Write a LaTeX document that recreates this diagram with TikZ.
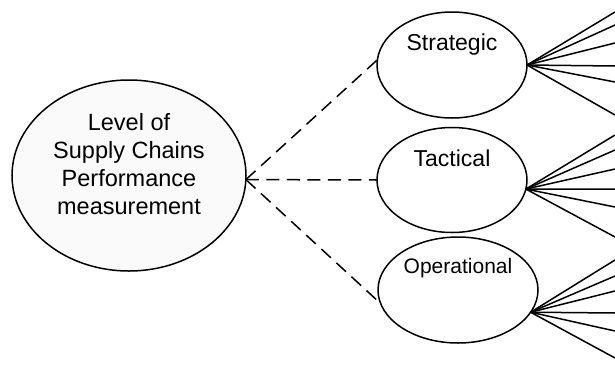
\documentclass[tikz,border=0pt]{standalone}
\usepackage{fontspec}
\setmainfont{Liberation Sans}
\usetikzlibrary{shapes.geometric}
\begin{document}
\begin{tikzpicture}[x=1pt, y=-1pt,
    level/.style={ellipse, draw, line width=1.5pt, inner sep=0pt, outer sep=0pt},
    link/.style={line width=1.5pt, dash pattern=on 13pt off 7.5pt},
    fan/.style={line width=1.5pt}]
    \useasboundingbox (0,0) rectangle (615,367);

    % 总体层级
    \node[level, fill=black!2, minimum width=234pt, minimum height=191pt] (main) at (129,175.5) {};
    \node[align=center, font=\fontsize{23.5}{28}\selectfont] (maintxt) at (129,164) {Level of\\Supply Chains\\Performance\\measurement};

    % 三个子层级
    \node[level, minimum width=150pt, minimum height=106pt] (str) at (452,65) {};
    \node[level, minimum width=150pt, minimum height=105pt] (tac) at (452,180) {};
    \node[level, minimum width=160pt, minimum height=106pt] (op) at (458,290) {};
    \node[font=\fontsize{23}{28}\selectfont, anchor=base] (strtxt) at (452,50) {Strategic};
    \node[font=\fontsize{23}{28}\selectfont, anchor=base] (tactxt) at (452,166) {Tactical};
    \node[font=\fontsize{21}{26}\selectfont, anchor=base] (optxt) at (458,273) {Operational};

    % 虚线连接
    \draw[link] (main.-2) -- (str.176);
    \draw[link] (main.-2) -- (tac.west);
    \draw[link] (main.-2) -- (op.190);

    % 右侧发散线
    \foreach \y [count=\i] in {12,25,43,66,82,115} {
        \coordinate (s\i) at (615,\y);
        \draw[fan] (str.east) -- (s\i);
    }
    \foreach \y [count=\i] in {135,150,169,189,207,237} {
        \coordinate (t\i) at (615,\y);
        \draw[fan] (tac.-7) -- (t\i);
    }
    \foreach \y [count=\i] in {260,276,291,313,331,358} {
        \coordinate (o\i) at (615,\y);
        \draw[fan] (op.-17) -- (o\i);
    }
\end{tikzpicture}
\end{document}
